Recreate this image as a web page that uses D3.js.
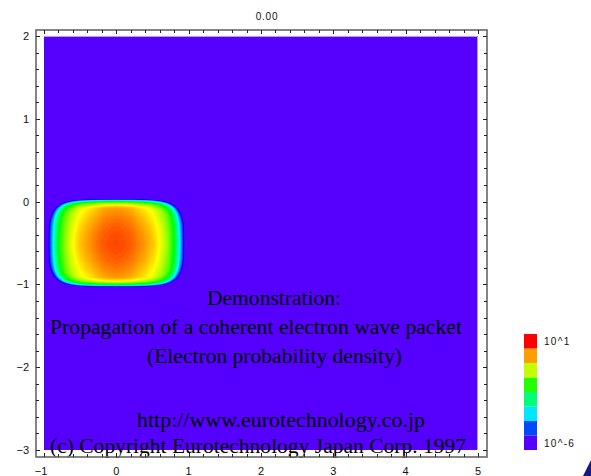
<!DOCTYPE html>
<html><head><meta charset="utf-8">
<script src="https://cdn.jsdelivr.net/npm/d3@7"></script>
<style>html,body{margin:0;padding:0;background:#fff;}svg{display:block;}</style>
</head><body>
<svg id="chart" width="591" height="476"></svg>
<script>
// ---- data ----
const title = "0.00";
const xTickValues = [-1, 0, 1, 2, 3, 4, 5];
const yTickValues = [-3, -2, -1, 0, 1, 2];
const peakLog10 = 0.6;          // log10 density at packet centre
const centreX = 0, centreY = -0.5;
const halfWidthX = 0.975, halfWidthY = 0.52;   // packet extent (rounded box)
const cornerPower = 5;
// interior log10 fall-off vs distance from centre along x
const xProfileDist = [0, 0.1, 0.2, 0.3, 0.4, 0.5, 0.6, 0.7, 0.75, 0.8, 0.85, 0.88, 0.91, 0.94, 1.0, 1.2];
const xProfileLog  = [0, -0.05, -0.15, -0.35, -0.55, -0.8, -1.2, -1.8, -2.3, -2.84, -3.5, -3.8, -3.9, -4.0, -4.2, -4.5];
// interior log10 fall-off vs distance from centre along y
const yProfileDist = [0, 0.1, 0.2, 0.3, 0.36, 0.4, 0.45, 0.5, 0.55, 0.7];
const yProfileLog  = [0, -0.05, -0.15, -0.3, -0.42, -0.5, -0.6, -0.7, -0.8, -1.0];
// drop at the packet wall vs normalised (rounded-box) radius
const edgeRadius = [0, 0.8, 0.865, 0.904, 0.942, 0.971, 0.99, 1.01, 1.04, 1.1, 1.5];
const edgeLog    = [0, 0, -0.4, -0.9, -1.8, -3.1, -4.3, -5.8, -7.0, -8.0, -9.0];
const legendLabels = ["10^1", "10^-6"];
const legendRange = [-6, 1];
const textLines = [
  "Demonstration:",
  "Propagation of a coherent electron wave packet",
  "(Electron probability density)",
  "http://www.eurotechnology.co.jp",
  "(c) Copyright Eurotechnology Japan Corp. 1997"
];

// ---- layout ----
const svg = d3.select("#chart");
const plot = {x0: 44, x1: 478, y0: 36, y1: 450};
const frame = {x0: 36, x1: 487, y0: 30, y1: 457};
const x = d3.scaleLinear().domain([-1, 5]).range([plot.x0, plot.x1]);
const y = d3.scaleLinear().domain([-3, 2]).range([plot.y1, plot.y0]);

const tScale = d3.scaleLinear().domain(legendRange).range([0, 1]).clamp(true);
const color = v => d3.hsl(260 * (1 - tScale(v)), 1, 0.5).formatHex();

// background (lowest level)
svg.append("rect").attr("x", plot.x0).attr("y", plot.y0)
  .attr("width", plot.x1 - plot.x0).attr("height", plot.y1 - plot.y0)
  .attr("fill", color(legendRange[0]));
svg.append("path")
  .attr("d", `M${plot.x0},${plot.y0 + 0.5}H${plot.x1 - 0.5}V${plot.y1}`)
  .attr("fill", "none").attr("stroke", "#b49cff").attr("stroke-width", 1);

// density field
const fx = d3.scaleLinear().domain(xProfileDist).range(xProfileLog).clamp(true);
const fy = d3.scaleLinear().domain(yProfileDist).range(yProfileLog).clamp(true);
const fe = d3.scaleLinear().domain(edgeRadius).range(edgeLog).clamp(true);
const step = 0.007;
const gx0 = -1.1, gy0 = 0.12;
const nx = Math.round(2.2 / step), ny = Math.round(1.3 / step);
const values = new Array(nx * ny);
for (let j = 0; j < ny; j++) {
  const dy = Math.abs(gy0 - j * step - centreY);
  for (let i = 0; i < nx; i++) {
    const dx = Math.abs(gx0 + i * step - centreX);
    const r = Math.pow(Math.pow(dx / halfWidthX, cornerPower) + Math.pow(dy / halfWidthY, cornerPower), 1 / cornerPower);
    values[j * nx + i] = peakLog10 + fx(dx) + fy(dy) + fe(r);
  }
}
const thresholds = d3.range(-6, 1.0001, 0.07);
const contours = d3.contours().size([nx, ny]).thresholds(thresholds)(values);
const proj = d3.geoTransform({
  point: function(px, py) {
    this.stream.point(x(gx0 + (px - 0.5) * step), y(gy0 - (py - 0.5) * step));
  }
});
const path = d3.geoPath(proj);
svg.append("clipPath").attr("id", "plotclip").append("rect")
  .attr("x", plot.x0).attr("y", plot.y0).attr("width", plot.x1 - plot.x0).attr("height", plot.y1 - plot.y0);
svg.append("g").attr("clip-path", "url(#plotclip)")
  .selectAll("path").data(contours).join("path")
  .attr("d", path)
  .attr("fill", d => color(d.value))
  .attr("stroke", d => color(d.value))
  .attr("stroke-width", 0.3);

// overlay texts
const textY = [305, 334, 363, 427, 453];
const textX = [[207, 341], [50, 462], [147, 402], [137, 425], [50, 466]];
svg.append("g").selectAll("text").data(textLines).join("text")
  .attr("x", (d, i) => textX[i][0])
  .attr("y", (d, i) => textY[i])
  .attr("textLength", (d, i) => textX[i][1] - textX[i][0])
  .attr("lengthAdjust", "spacingAndGlyphs")
  .attr("font-family", "'Liberation Serif', 'Times New Roman', serif")
  .attr("font-size", 20.5)
  .attr("fill", "#000")
  .text(d => d);

// frame
svg.append("rect").attr("x", frame.x0).attr("y", frame.y0)
  .attr("width", frame.x1 - frame.x0).attr("height", frame.y1 - frame.y0)
  .attr("fill", "none").attr("stroke", "#666").attr("stroke-width", 1.6);

// ticks
const minorX = d3.range(-1, 5.0001, 0.2);
const minorY = d3.range(-3, 2.0001, 0.2);
const isMajor = v => Math.abs(v - Math.round(v)) < 1e-6;
const tg = svg.append("g").attr("stroke", "#222").attr("stroke-width", 1);
minorX.forEach(v => {
  const len = isMajor(v) ? 4 : 3;
  const px = Math.round(x(v)) + 0.5;
  tg.append("line").attr("x1", px).attr("x2", px).attr("y1", frame.y0).attr("y2", frame.y0 + len);
  tg.append("line").attr("x1", px).attr("x2", px).attr("y1", frame.y1).attr("y2", frame.y1 - len);
});
minorY.forEach(v => {
  const len = isMajor(v) ? 4 : 3;
  const py = Math.round(y(v)) + 0.5;
  tg.append("line").attr("y1", py).attr("y2", py).attr("x1", frame.x0).attr("x2", frame.x0 + len);
  tg.append("line").attr("y1", py).attr("y2", py).attr("x1", frame.x1).attr("x2", frame.x1 - len);
});

// tick labels
const fmt = v => (v < 0 ? "\u2212" : "") + Math.abs(v);
svg.append("g").selectAll("text").data(xTickValues).join("text")
  .attr("x", d => x(d) + (d < 0 ? -3 : 0))
  .attr("y", 475)
  .attr("text-anchor", "middle")
  .attr("font-family", "'Liberation Sans', Arial, sans-serif")
  .attr("font-size", 11).attr("fill", "#111")
  .text(fmt);
svg.append("g").selectAll("text").data(yTickValues).join("text")
  .attr("x", 29)
  .attr("y", d => y(d) + 4)
  .attr("text-anchor", "end")
  .attr("font-family", "'Liberation Sans', Arial, sans-serif")
  .attr("font-size", 11).attr("fill", "#111")
  .text(fmt);

// title
svg.append("text").attr("x", 267).attr("y", 20).attr("text-anchor", "middle")
  .attr("font-family", "'Liberation Sans', Arial, sans-serif")
  .attr("font-size", 10).attr("letter-spacing", 0.8).attr("fill", "#111")
  .text(title);

// legend
const nSw = 8;
const legendLevels = d3.range(nSw).map(i => legendRange[0] + i * (legendRange[1] - legendRange[0]) / (nSw - 1));
const ly = d3.scaleBand().domain(d3.range(nSw)).range([450, 334]);
svg.append("g").selectAll("rect").data(legendLevels).join("rect")
  .attr("x", 524).attr("width", 13)
  .attr("y", (d, i) => ly(i)).attr("height", ly.bandwidth())
  .attr("fill", d => color(d));
svg.append("g").selectAll("text").data(legendLabels).join("text")
  .attr("x", 544)
  .attr("y", (d, i) => i === 0 ? 345 : 447)
  .attr("font-family", "'Liberation Sans', Arial, sans-serif")
  .attr("font-size", 10).attr("letter-spacing", 1.3).attr("fill", "#111")
  .text(d => d);

// corner decoration
svg.append("path").attr("d", "M583,476L591,460L591,476Z").attr("fill", "#161a7e");
</script>
</body></html>
